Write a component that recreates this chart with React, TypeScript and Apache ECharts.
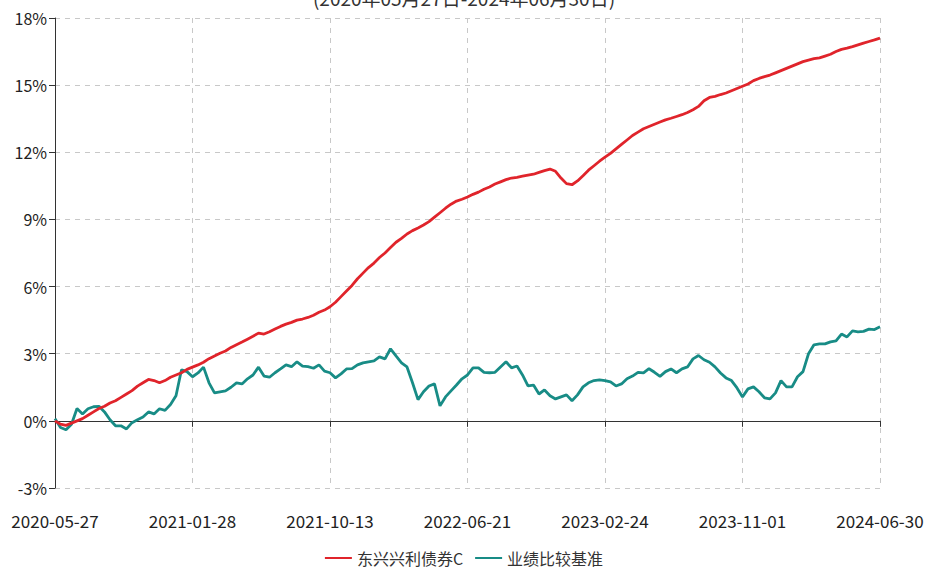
import React, { useEffect, useRef } from "react";
import * as echarts from "echarts";

const titleText = "(2020年05月27日-2024年06月30日)";
const seriesNames = ["东兴兴利债券C", "业绩比较基准"];
const tickDates = ["2020-05-27", "2021-01-28", "2021-10-13", "2022-06-21", "2023-02-24", "2023-11-01", "2024-06-30"];
const stepsPerTick = 25;

const fundValues = [
  0.0, -0.15, -0.2, -0.1, 0.0, 0.1, 0.25, 0.4, 0.55, 0.65,
  0.8, 0.9, 1.05, 1.2, 1.35, 1.55, 1.7, 1.85, 1.8, 1.7,
  1.8, 1.95, 2.05, 2.15, 2.3, 2.4, 2.5, 2.62, 2.78, 2.9,
  3.02, 3.12, 3.28, 3.4, 3.52, 3.65, 3.78, 3.92, 3.88, 3.98,
  4.1, 4.22, 4.32, 4.4, 4.5, 4.55, 4.62, 4.72, 4.85, 4.95,
  5.1, 5.3, 5.55, 5.8, 6.05, 6.35, 6.6, 6.85, 7.05, 7.3,
  7.5, 7.75, 7.98, 8.15, 8.35, 8.5, 8.62, 8.75, 8.9, 9.1,
  9.3, 9.5, 9.68, 9.82, 9.9, 10.0, 10.12, 10.22, 10.35, 10.45,
  10.58, 10.68, 10.78, 10.85, 10.88, 10.93, 10.98, 11.02, 11.1, 11.18,
  11.25, 11.15, 10.85, 10.6, 10.55, 10.72, 10.95, 11.2, 11.4, 11.6,
  11.78, 11.95, 12.15, 12.35, 12.55, 12.75, 12.9, 13.05, 13.15, 13.25,
  13.35, 13.45, 13.52, 13.6, 13.68, 13.78, 13.9, 14.05, 14.3, 14.45,
  14.5, 14.58, 14.65, 14.75, 14.85, 14.95, 15.05, 15.2, 15.3, 15.38,
  15.45, 15.55, 15.65, 15.75, 15.85, 15.95, 16.05, 16.12, 16.18, 16.22,
  16.3, 16.38, 16.5, 16.6, 16.65, 16.72, 16.8, 16.88, 16.95, 17.02,
  17.1,
];

const benchmarkValues = [
  0.1, -0.3, -0.4, -0.15, 0.55, 0.31, 0.54, 0.63, 0.65, 0.4,
  0.05, -0.22, -0.22, -0.36, -0.08, 0.05, 0.17, 0.4, 0.31, 0.54,
  0.47, 0.73, 1.12, 2.28, 2.2, 1.97, 2.14, 2.4, 1.7, 1.25,
  1.3, 1.34, 1.5, 1.7, 1.65, 1.88, 2.05, 2.4, 2.0, 1.95,
  2.15, 2.32, 2.5, 2.42, 2.64, 2.45, 2.42, 2.35, 2.5, 2.22,
  2.15, 1.92, 2.1, 2.32, 2.33, 2.5, 2.59, 2.64, 2.68, 2.86,
  2.77, 3.22, 2.9, 2.59, 2.41, 1.7, 0.95, 1.3, 1.56, 1.65,
  0.67, 1.07, 1.34, 1.6, 1.88, 2.05, 2.37, 2.37, 2.17, 2.15,
  2.17, 2.41, 2.64, 2.37, 2.45, 2.05, 1.56, 1.6, 1.2, 1.38,
  1.12, 0.98, 1.07, 1.16, 0.9, 1.16, 1.52, 1.7, 1.8, 1.83,
  1.8, 1.74, 1.56, 1.65, 1.88, 2.0, 2.17, 2.14, 2.33, 2.17,
  1.99, 2.2, 2.32, 2.15, 2.32, 2.41, 2.77, 2.92, 2.73, 2.62,
  2.41, 2.14, 1.92, 1.8, 1.47, 1.07, 1.43, 1.52, 1.3, 1.03,
  0.98, 1.25, 1.8, 1.52, 1.52, 1.97, 2.2, 3.0, 3.4, 3.44,
  3.44, 3.53, 3.57, 3.88, 3.75, 4.02, 3.98, 4.0, 4.1, 4.08,
  4.2,
];

function buildCategories(): string[] {
  const out: string[] = [];
  for (let t = 0; t < tickDates.length - 1; t++) {
    const a = new Date(tickDates[t] + "T00:00:00Z").getTime();
    const b = new Date(tickDates[t + 1] + "T00:00:00Z").getTime();
    for (let k = 0; k < stepsPerTick; k++) {
      if (k === 0) {
        out.push(tickDates[t]);
      } else {
        const d = new Date(a + ((b - a) * k) / stepsPerTick);
        out.push(d.toISOString().slice(0, 10));
      }
    }
  }
  out.push(tickDates[tickDates.length - 1]);
  return out;
}

const FONT = "'Noto Sans CJK SC', 'Noto Sans', sans-serif";
const RED = "#e0242b";
const TEAL = "#188c86";

export default function App() {
  const ref = useRef<HTMLDivElement>(null);

  useEffect(() => {
    if (!ref.current) return;
    const chart = echarts.init(ref.current, undefined, { renderer: "svg" });
    const categories = buildCategories();
    const interval = stepsPerTick - 1;

    chart.setOption({
      animation: false,
      backgroundColor: "#ffffff",
      textStyle: { fontFamily: FONT },
      graphic: [
        {
          type: "text",
          left: "center",
          top: -12,
          style: {
            text: titleText,
            fontSize: 19,
            fontFamily: FONT,
            fill: "#333333",
          },
        },
      ],
      grid: { left: 55, right: 48, top: 18, bottom: 81, containLabel: false },
      legend: {
        top: 545,
        left: "center",
        icon: "rect",
        itemWidth: 27,
        itemHeight: 2,
        itemGap: 12,
        textStyle: { fontSize: 16, color: "#333333", fontFamily: FONT },
        data: seriesNames,
      },
      xAxis: [
        {
          type: "category",
          data: categories,
          boundaryGap: false,
          axisLine: { onZero: true, lineStyle: { color: "#333333", width: 1 } },
          axisTick: { show: true, interval, length: 6, lineStyle: { color: "#333333" } },
          axisLabel: { show: false },
          splitLine: {
            show: true,
            interval,
            lineStyle: { color: "#c8c8c8", type: [5, 5], width: 1 },
          },
        },
        {
          type: "category",
          data: categories,
          boundaryGap: false,
          position: "bottom",
          axisLine: { show: false, onZero: false },
          axisTick: { show: false },
          splitLine: { show: false },
          axisLabel: {
            show: true,
            interval,
            margin: 24,
            fontSize: 17,
            color: "#222222",
            fontFamily: FONT,
          },
        },
      ],
      yAxis: {
        type: "value",
        min: -3,
        max: 18,
        interval: 3,
        axisLine: { show: true, lineStyle: { color: "#333333", width: 1 } },
        axisTick: { show: true, length: 6, lineStyle: { color: "#333333" } },
        axisLabel: {
          formatter: (v: number) => `${v}%`,
          fontSize: 16,
          color: "#222222",
          margin: 8,
          fontFamily: FONT,
        },
        splitLine: { show: true, lineStyle: { color: "#c8c8c8", type: [5, 5], width: 1 } },
      },
      series: [
        {
          name: seriesNames[0],
          type: "line",
          data: fundValues,
          symbol: "none",
          smooth: false,
          lineStyle: { color: RED, width: 2.8 },
          itemStyle: { color: RED },
          z: 3,
        },
        {
          name: seriesNames[1],
          type: "line",
          data: benchmarkValues,
          symbol: "none",
          smooth: false,
          lineStyle: { color: TEAL, width: 2.8 },
          itemStyle: { color: TEAL },
          z: 2,
        },
      ],
    });

    return () => {
      chart.dispose();
    };
  }, []);

  return (
    <div
      ref={ref}
      style={{ position: "absolute", left: 0, top: 0, width: 928, height: 569 }}
    />
  );
}
